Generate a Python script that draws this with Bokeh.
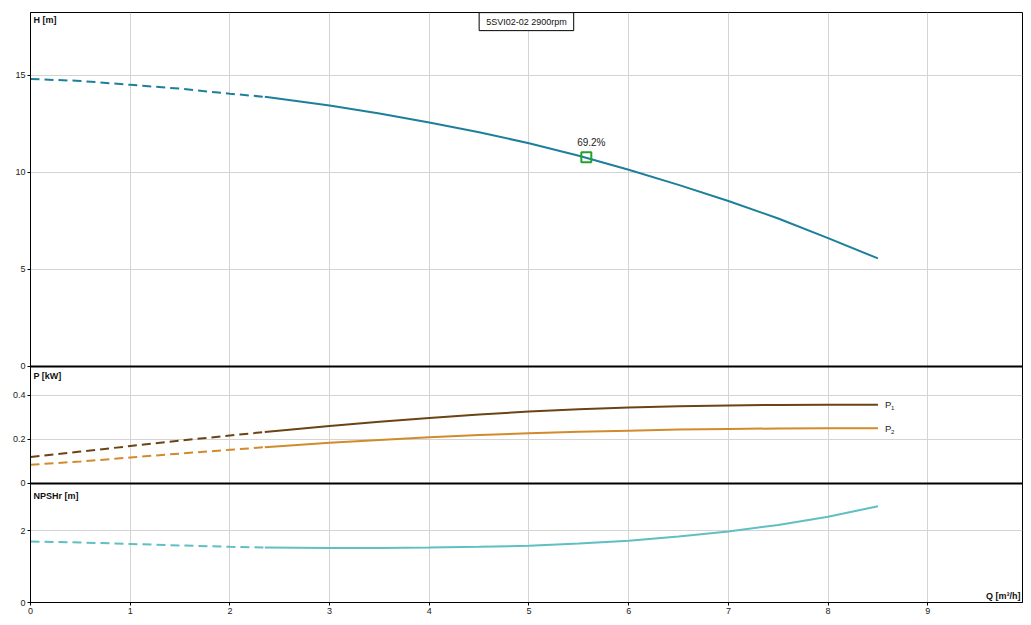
from bokeh.plotting import figure
from bokeh.models import Range1d, LinearAxis, FixedTicker, Grid, Span, Label
from bokeh.embed import file_html
from bokeh.resources import INLINE

# ---- data ----
Q = [0, 0.5, 1, 1.5, 2, 2.35, 3, 3.5, 4, 4.5, 5, 5.5, 6, 6.5, 7, 7.5, 8, 8.5]
H = [14.82, 14.72, 14.52, 14.32, 14.06, 13.9, 13.45, 13.04, 12.58, 12.07,
     11.51, 10.86, 10.14, 9.36, 8.53, 7.63, 6.62, 5.57]
P1 = [0.12, 0.145, 0.17, 0.195, 0.218, 0.234, 0.261, 0.281, 0.298, 0.314,
      0.327, 0.337, 0.345, 0.351, 0.355, 0.357, 0.358, 0.358]
P2 = [0.085, 0.1, 0.118, 0.136, 0.153, 0.165, 0.185, 0.198, 0.21, 0.22,
      0.228, 0.235, 0.24, 0.245, 0.248, 0.25, 0.251, 0.251]
NPSH = [1.7, 1.67, 1.63, 1.59, 1.55, 1.53, 1.52, 1.52, 1.53, 1.55,
        1.58, 1.64, 1.72, 1.84, 1.98, 2.16, 2.39, 2.68]
Q_SPLIT = 2.35

BEP_Q = [5.575]
BEP_H = [10.79]
BEP_LABEL = "69.2%"
TITLE = "5SVI02-02 2900rpm"

Q_TICKS = [0, 1, 2, 3, 4, 5, 6, 7, 8, 9]
H_TICKS = [0, 5, 10, 15]
P_TICKS = [0, 0.2, 0.4]
N_TICKS = [0, 2]
P_TICK_LABELS = ["0", "0.2", "0.4"]
N_TICK_LABELS = ["0", "2"]

# panel ranges (three stacked panels share one frame)
X_RANGE = (0, 9.95)
H_RANGE = (-12.165, 18.247)
P_RANGE = (-0.541, 2.141)
N_RANGE = (0, 16.43)

C_H = "#1c7f9c"
C_P1 = "#6b4415"
C_P2 = "#d38a2c"
C_N = "#5fbfc3"
C_BEP = "#22a22a"
GRID = "#d4d4d4"
FONT = "Liberation Sans"

dash_idx = [i for i, q in enumerate(Q) if q <= Q_SPLIT]
solid_idx = [i for i, q in enumerate(Q) if q >= Q_SPLIT]


def part(arr, idx):
    return [arr[i] for i in idx]


def to_h(v, rng):
    """position of a value of another panel on the shared (H) axis"""
    return H_RANGE[0] + (v - rng[0]) * (H_RANGE[1] - H_RANGE[0]) / (rng[1] - rng[0])


p = figure(frame_width=992, frame_height=590,
           x_range=Range1d(*X_RANGE), y_range=Range1d(*H_RANGE),
           output_backend="svg", toolbar_location=None,
           x_axis_location=None, y_axis_location=None,
           min_border_left=30, min_border_right=2, min_border_top=12,
           min_border_bottom=18)
p.extra_y_ranges = {"p": Range1d(*P_RANGE), "n": Range1d(*N_RANGE)}
p.center = [r for r in p.center if not isinstance(r, Grid)]
p.outline_line_color = "black"
p.outline_line_width = 1
p.background_fill_color = "white"
p.border_fill_color = "white"


def style_axis(ax):
    ax.major_label_text_font = FONT
    ax.major_label_text_font_size = "9px"
    ax.major_label_text_color = "#222222"
    ax.major_tick_out = 3
    ax.major_tick_in = 0
    ax.minor_tick_out = 0
    ax.minor_tick_in = 0
    ax.major_label_standoff = 2
    ax.axis_line_color = "black"


# x axis
xax = LinearAxis(ticker=FixedTicker(ticks=Q_TICKS))
style_axis(xax)
p.add_layout(xax, "below")
p.add_layout(Grid(dimension=0, ticker=FixedTicker(ticks=Q_TICKS[1:]),
                  grid_line_color=GRID))

# one shared left axis carrying the ticks of all three panels
left_ticks = list(H_TICKS)
overrides = {}
for ticks, labels, rng in ((P_TICKS, P_TICK_LABELS, P_RANGE),
                           (N_TICKS, N_TICK_LABELS, N_RANGE)):
    for t, lab in zip(ticks, labels):
        pos = to_h(t, rng)
        left_ticks.append(pos)
        overrides[pos] = lab
yax = LinearAxis(ticker=FixedTicker(ticks=left_ticks),
                 major_label_overrides=overrides)
style_axis(yax)
p.add_layout(yax, "left")

# horizontal grid lines of each panel
for name, ticks in (("default", H_TICKS), ("p", P_TICKS), ("n", N_TICKS)):
    p.add_layout(Grid(dimension=1, y_range_name=name,
                      ticker=FixedTicker(ticks=[t for t in ticks if t != 0]),
                      grid_line_color=GRID))

# panel separators
for name in ("default", "p"):
    p.add_layout(Span(location=0, dimension="width", y_range_name=name,
                      line_color="black", line_width=2))

# curves
for arr, col, rn in ((H, C_H, "default"), (P1, C_P1, "p"),
                     (P2, C_P2, "p"), (NPSH, C_N, "n")):
    p.line(part(Q, dash_idx), part(arr, dash_idx), line_color=col,
           line_width=2, line_dash="9 5", y_range_name=rn)
    p.line(part(Q, solid_idx), part(arr, solid_idx), line_color=col,
           line_width=2, y_range_name=rn)

# best efficiency point
p.scatter(BEP_Q, BEP_H, marker="square", size=10, fill_color=None,
          line_color=C_BEP, line_width=2)
p.add_layout(Label(x=BEP_Q[0] + 0.05, y=BEP_H[0] + 0.45, text=BEP_LABEL,
                   text_align="center", text_baseline="bottom",
                   text_font=FONT, text_font_size="10px",
                   text_color="#222222"))

# axis titles inside the frame
for txt, yv, rn in (("H [m]", 18.1, "default"), ("P [kW]", 0.51, "p"),
                    ("NPSHr [m]", 3.1, "n")):
    p.add_layout(Label(x=0.03, y=yv, y_range_name=rn, text=txt,
                       text_align="left", text_baseline="top",
                       text_font=FONT, text_font_size="9px",
                       text_font_style="bold", text_color="#111111"))
p.add_layout(Label(x=9.93, y=0.05, y_range_name="n", text="Q [m³/h]",
                   text_align="right", text_baseline="bottom",
                   text_font=FONT, text_font_size="9px",
                   text_font_style="bold", text_color="#111111"))

# P1 / P2 curve labels
for arr, sub in ((P1, "1"), (P2, "2")):
    p.add_layout(Label(x=Q[-1] + 0.07, y=arr[-1], y_range_name="p", text="P",
                       text_align="left", text_baseline="middle",
                       text_font=FONT, text_font_size="9.5px",
                       text_color="#222222"))
    p.add_layout(Label(x=Q[-1] + 0.13, y=arr[-1] - 0.016, y_range_name="p",
                       text=sub, text_align="left", text_baseline="middle",
                       text_font=FONT, text_font_size="6px",
                       text_color="#222222"))

# title box
p.add_layout(Label(x=4.5, y=18.24, text=TITLE, text_align="left",
                   text_baseline="top", text_font=FONT,
                   text_font_size="9px", text_color="#111111",
                   border_line_color="black", border_line_width=1,
                   background_fill_color="white", padding=dict(x=7, y=4)))

open("out.html", "w").write(file_html(p, INLINE))
